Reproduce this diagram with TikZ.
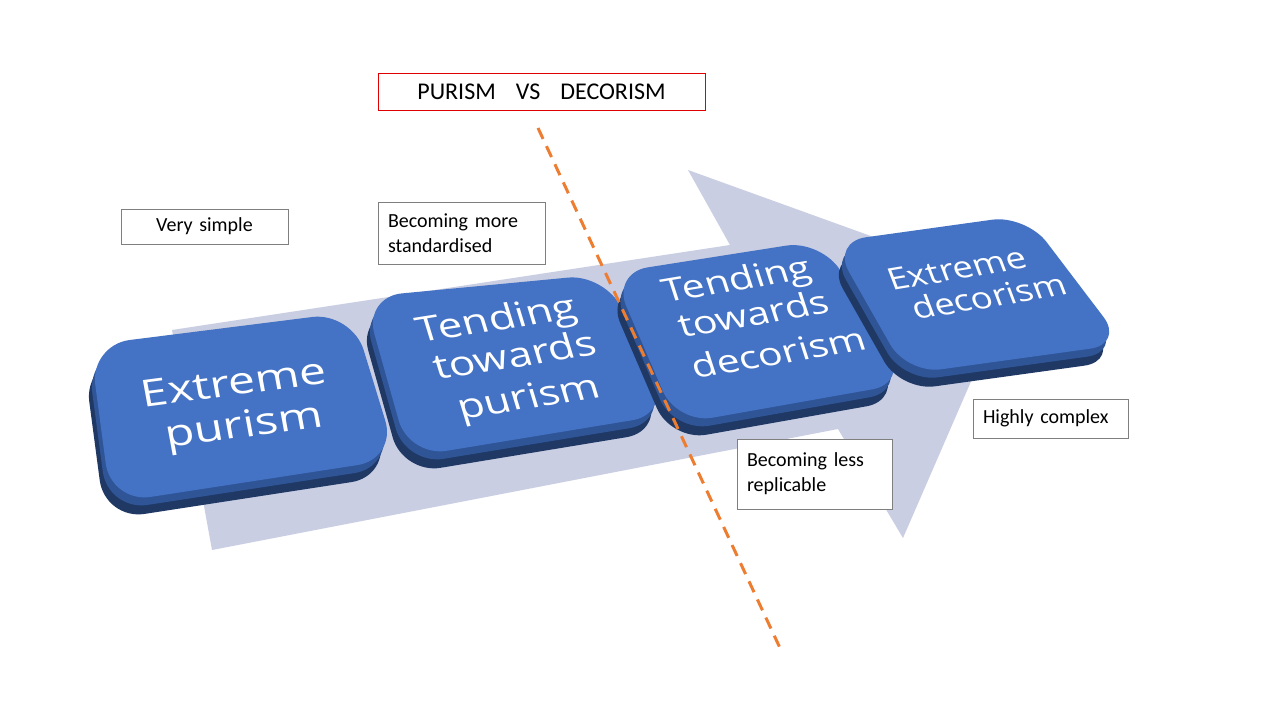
\documentclass[tikz,border=0pt]{standalone}
\usepackage{fontspec}
\setmainfont{Carlito}
\newfontfamily\blockfont{Open Sans}
\definecolor{arrowfill}{HTML}{C9CEE3}
\definecolor{face}{HTML}{4472C4}
\definecolor{sidemid}{HTML}{2F5597}
\definecolor{sidedark}{HTML}{1F3864}
\definecolor{dashorange}{HTML}{ED7D31}
\definecolor{boxgray}{HTML}{7F7F7F}
\definecolor{titlered}{HTML}{E00000}
\newcommand{\squash}[2]{\scalebox{1}[#1]{#2}}
% key-shaped block: radius, four corners (TL, TR, BR, BL)
\newcommand{\keyblk}[5]{%
  \fill[sidedark, rounded corners=#1pt, shift={(-6,17)}] (#2) -- (#3) -- (#4) -- (#5) -- cycle;
  \fill[sidemid, rounded corners=#1pt, shift={(-3,8)}] (#2) -- (#3) -- (#4) -- (#5) -- cycle;
  \fill[face, rounded corners=#1pt] (#2) -- (#3) -- (#4) -- (#5) -- cycle;}
\begin{document}
\begin{tikzpicture}[x=1pt,y=-1pt,
  keytext/.style={text=white, inner sep=0pt, anchor=base},
  kone/.style={keytext, rotate=7.5, xslant=-0.05, font=\blockfont\fontsize{48}{50}\selectfont},
  ktwo/.style={keytext, rotate=9, xslant=-0.14, font=\blockfont\fontsize{43.5}{45}\selectfont},
  kthree/.style={keytext, rotate=9.5, xslant=-0.15, font=\blockfont\fontsize{40.5}{42}\selectfont},
  kfour/.style={keytext, rotate=9.5, xslant=-0.2, font=\blockfont\fontsize{36}{38}\selectfont},
  labelbox/.style={draw=boxgray, line width=1pt, fill=white, inner xsep=10pt, inner ysep=0pt,
     font=\fontsize{20}{25}\selectfont, align=left},
  dashline/.style={draw=dashorange, line width=3pt, dash pattern=on 12pt off 8pt}
]
\useasboundingbox (0,0) rectangle (1280,720);
\fill[white] (0,0) rectangle (1280,720);
% big arrow
\fill[arrowfill] (172,330) -- (730,245) -- (688,170) -- (1012,287) -- (903,538) -- (838,429) -- (212,550) -- cycle;
% blocks (faces with extruded sides)
\keyblk{40}{90,345}{352,312}{397,459}{111,503}
\keyblk{38}{364,297}{606,274}{670,414}{409,457}
\keyblk{36}{612,273}{822,240}{908,383}{677,424}
\keyblk{34}{832,242}{1026,215}{1124,344}{907,374}
% block texts
\node[kone] (t1a) at (236,395) {\squash{0.78}{Extreme}};
\node[kone] (t1b) at (246,437) {\squash{0.78}{purism}};
\node[ktwo] (t2a) at (500,330) {\squash{0.8}{Tending}};
\node[ktwo] (t2b) at (518,367) {\squash{0.8}{towards}};
\node[ktwo] (t2c) at (532,408) {\squash{0.8}{purism}};
\node[kthree] (t3a) at (740,290) {\squash{0.8}{Tending}};
\node[kthree] (t3b) at (757,325) {\squash{0.8}{towards}};
\node[kthree] (t3c) at (782,364) {\squash{0.8}{decorism}};
\node[kfour] (t4a) at (961,279) {\squash{0.85}{Extreme}};
\node[kfour] (t4b) at (993,307) {\squash{0.85}{decorism}};
% labels
\node[labelbox, align=center, text width=147pt, minimum height=35pt] (l1) at (204.5,226.5) {Very simple};
\node[labelbox, text width=147pt, minimum height=62pt] (l2) at (461.5,233) {Becoming more\\standardised};
\node[labelbox, text width=135pt, minimum height=70pt] (l3) at (814.5,474) {Becoming less\\replicable};
\node[labelbox, text width=135pt, minimum height=39pt] (l4) at (1050.5,418.5) {Highly complex};
\node[draw=titlered, line width=1pt, fill=white, minimum width=327pt, minimum height=37pt, inner sep=0pt,
  font=\fontsize{24}{28}\selectfont] (title) at (541.5,91.5) {PURISM\hspace{20pt}VS\hspace{20pt}DECORISM};
% dashed divider
\coordinate (d1) at (538,128);
\coordinate (d2) at (780,648);
\draw[dashline] (d1) -- (d2);
\end{tikzpicture}
\end{document}
